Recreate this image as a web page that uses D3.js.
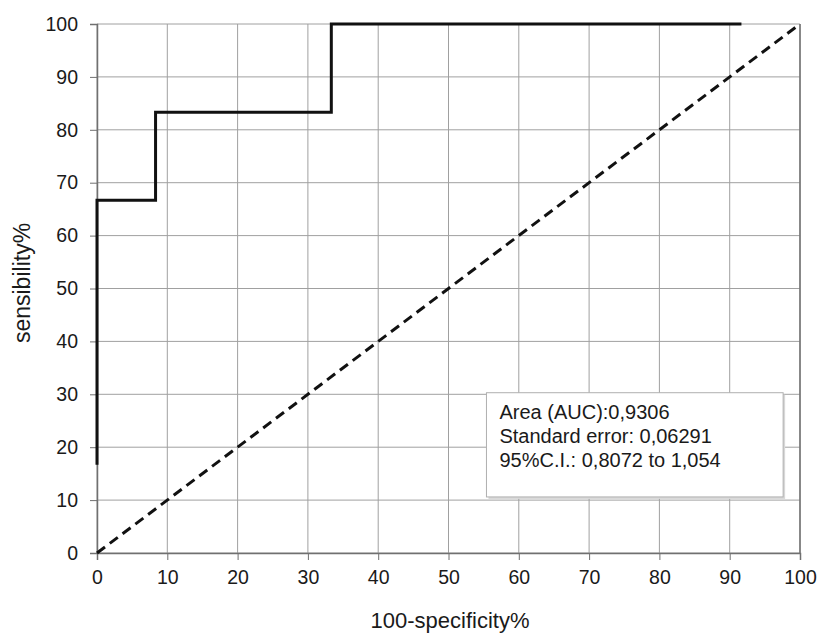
<!DOCTYPE html>
<html>
<head>
<meta charset="utf-8">
<script src="https://cdn.jsdelivr.net/npm/d3@7"></script>
<style>
  body { margin: 0; background: #fff; }
  text { font-family: "Liberation Sans", Arial, sans-serif; fill: #1a1a1a; }
</style>
</head>
<body>
<script>
// ROC curve points (100-specificity %, sensitivity %)
var rocX = [0, 0, 8.33, 8.33, 33.33, 33.33, 91.67];
var rocY = [16.67, 66.67, 66.67, 83.33, 83.33, 100, 100];
var ticks = [0, 10, 20, 30, 40, 50, 60, 70, 80, 90, 100];
var legendLines = ["Area (AUC):0,9306", "Standard error: 0,06291", "95%C.I.: 0,8072 to 1,054"];

var margin = {top: 24, right: 19, bottom: 86, left: 97};
var W = 819, H = 639;
var w = W - margin.left - margin.right;
var h = H - margin.top - margin.bottom;

var svg = d3.select("body").append("svg")
            .attr("width", W)
            .attr("height", H);

var g = svg.append("g")
           .attr("transform", "translate(" + margin.left + "," + margin.top + ")");

var xScale = d3.scaleLinear().domain([0, 100]).range([0, w]);
var yScale = d3.scaleLinear().domain([0, 100]).range([h, 0]);

// grid
g.append("g").selectAll("line")
 .data(ticks).enter().append("line")
 .attr("x1", function(d) { return xScale(d); })
 .attr("x2", function(d) { return xScale(d); })
 .attr("y1", 0).attr("y2", h)
 .attr("stroke", "#a0a0a0").attr("stroke-width", 1);
g.append("g").selectAll("line")
 .data(ticks).enter().append("line")
 .attr("y1", function(d) { return yScale(d); })
 .attr("y2", function(d) { return yScale(d); })
 .attr("x1", 0).attr("x2", w)
 .attr("stroke", "#a0a0a0").attr("stroke-width", 1);

// axes
var xAxis = d3.axisBottom(xScale).tickValues(ticks).tickSize(7).tickPadding(10);
var yAxis = d3.axisLeft(yScale).tickValues(ticks).tickSize(7).tickPadding(12);

var gX = g.append("g")
          .attr("transform", "translate(0," + h + ")")
          .call(xAxis);
var gY = g.append("g").call(yAxis);

[gX, gY].forEach(function(a) {
  a.select(".domain").attr("stroke", "#707070").attr("stroke-width", 1.5);
  a.selectAll(".tick line").attr("stroke", "#707070");
  a.selectAll(".tick text")
   .style("font-family", '"Liberation Sans", Arial, sans-serif')
   .style("font-size", "19.5px")
   .attr("fill", "#1a1a1a");
});

// right border
g.append("line")
 .attr("x1", w).attr("x2", w).attr("y1", 0).attr("y2", h)
 .attr("stroke", "#707070").attr("stroke-width", 1.5);

// legend box
var lx = xScale(55.4), ly = yScale(30.3);
var lw = xScale(97.6) - lx, lh = yScale(10.6) - ly;
g.append("rect")
 .attr("x", lx + 2).attr("y", ly + 2)
 .attr("width", lw).attr("height", lh)
 .attr("fill", "#d8d8d8");
g.append("rect")
 .attr("x", lx).attr("y", ly)
 .attr("width", lw).attr("height", lh)
 .attr("fill", "#fff")
 .attr("stroke", "#b0b0b0").attr("stroke-width", 1);
g.append("g").selectAll("text")
 .data(legendLines).enter().append("text")
 .attr("x", lx + 13)
 .attr("y", function(d, i) { return ly + 26 + i * 24; })
 .style("font-size", "20px")
 .text(function(d) { return d; });

// diagonal reference
g.append("line")
 .attr("x1", xScale(0)).attr("y1", yScale(0))
 .attr("x2", xScale(100)).attr("y2", yScale(100))
 .attr("stroke", "#111").attr("stroke-width", 3)
 .attr("stroke-dasharray", "10,6");

// ROC curve
var line = d3.line()
             .x(function(d) { return xScale(d[0]); })
             .y(function(d) { return yScale(d[1]); });
g.append("path")
 .datum(d3.zip(rocX, rocY))
 .attr("d", line)
 .attr("fill", "none")
 .attr("stroke", "#111")
 .attr("stroke-width", 3);

// axis titles
svg.append("text")
   .attr("text-anchor", "middle")
   .attr("transform", "translate(30,283)rotate(-90)")
   .style("font-size", "23px")
   .text("sensibility%");
svg.append("text")
   .attr("text-anchor", "middle")
   .attr("x", 450)
   .attr("y", 628)
   .style("font-size", "22px")
   .text("100-specificity%");
</script>
</body>
</html>
